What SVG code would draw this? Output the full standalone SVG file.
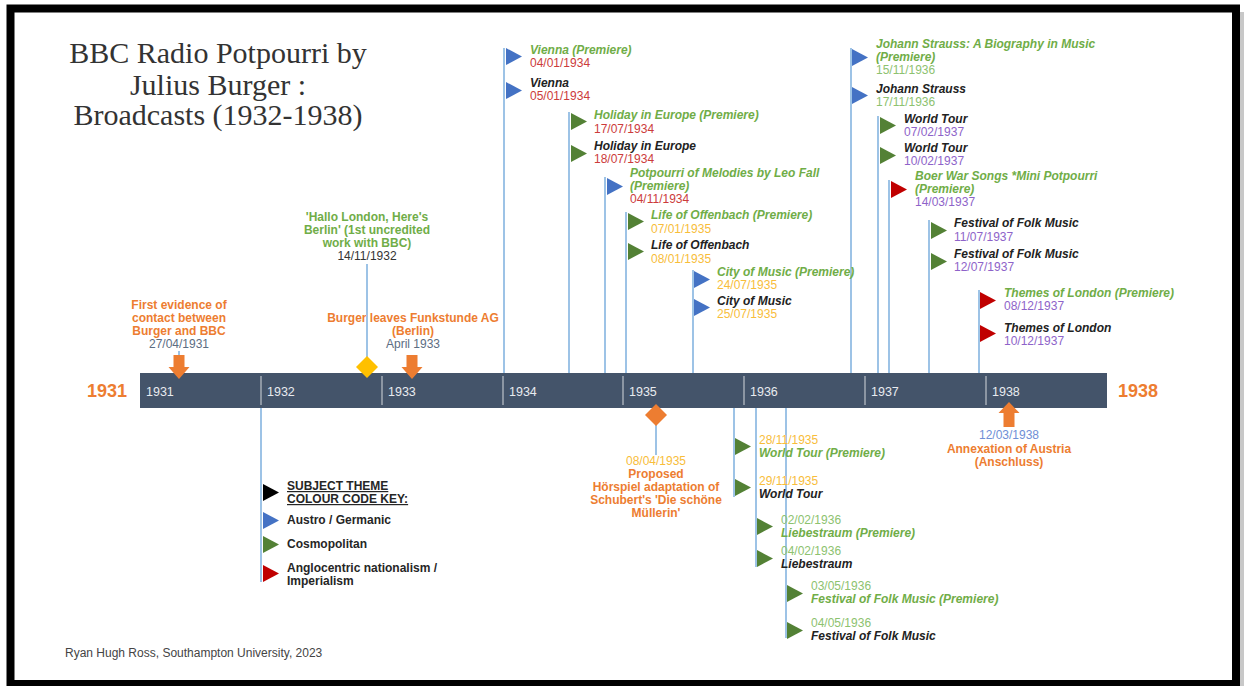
<svg xmlns="http://www.w3.org/2000/svg" width="1245" height="686" viewBox="0 0 1245 686">
<style>
text{font-family:"Liberation Sans",Arial,sans-serif;font-size:12px}
.title{font-family:"Liberation Serif","Times New Roman",serif;font-size:30px;fill:#333;text-anchor:middle}
.ev{font-weight:bold;font-style:italic}
.g{fill:#70AD47}
.k{fill:#222}
.dr{fill:#CC3B3B}
.dy{fill:#F8BD3A}
.dg{fill:#8DC26F}
.dp{fill:#8E63C9}
.db{fill:#5C6D82}
.or{fill:#ED7D31;font-weight:bold}
.c{text-anchor:middle}
.conn line{stroke:#9DC3E6;stroke-width:2}
.fb{fill:#4472C4}
.fg{fill:#538135}
.fr{fill:#C00000}
.fk{fill:#000}
.yr{fill:#E8EBEF;font-size:12.5px}
.tick{stroke:#8C96A3;stroke-width:2}
.big{fill:#ED7D31;font-weight:bold;font-size:18px}
.leg{font-weight:bold;fill:#262626}
</style>
<defs>
<path id="flag" d="M0,0 L16,8.5 L0,17 Z"/>
<path id="darrow" d="M-5.5,0 H5.5 V12 H10.5 L0,24 L-10.5,12 H-5.5 Z"/>
</defs>
<rect x="0" y="0" width="1245" height="686" fill="#fff"/>
<rect x="1240" y="12" width="4" height="674" fill="#c8c8c8"/>
<rect x="10.5" y="8.5" width="1225.5" height="675.5" fill="#fff" stroke="#000" stroke-width="8"/>

<g id="title">
<text class="title" x="218" y="63">BBC Radio Potpourri by</text>
<text class="title" x="218" y="95">Julius Burger :</text>
<text class="title" x="218" y="125">Broadcasts (1932-1938)</text>
</g>

<g id="connectors" class="conn">
<line x1="504" y1="48" x2="504" y2="373"/>
<line x1="569" y1="112" x2="569" y2="373"/>
<line x1="605" y1="177" x2="605" y2="373"/>
<line x1="626" y1="212" x2="626" y2="373"/>
<line x1="693" y1="270" x2="693" y2="373"/>
<line x1="851" y1="48" x2="851" y2="373"/>
<line x1="878" y1="116" x2="878" y2="373"/>
<line x1="889" y1="180" x2="889" y2="373"/>
<line x1="929" y1="220" x2="929" y2="373"/>
<line x1="979" y1="290" x2="979" y2="373"/>
<line x1="367" y1="264" x2="367" y2="360"/>
<line x1="179" y1="351" x2="179" y2="357"/>
<line x1="261" y1="408" x2="261" y2="582"/>
<line x1="656" y1="424" x2="656" y2="455"/>
<line x1="734" y1="408" x2="734" y2="497"/>
<line x1="756" y1="408" x2="756" y2="567"/>
<line x1="786" y1="408" x2="786" y2="638"/>
</g>

<g id="timeline">
<rect x="140" y="373" width="967" height="35" fill="#44546A"/>
<line class="tick" x1="261" y1="376" x2="261" y2="405"/>
<line class="tick" x1="382" y1="376" x2="382" y2="405"/>
<line class="tick" x1="503" y1="376" x2="503" y2="405"/>
<line class="tick" x1="623" y1="376" x2="623" y2="405"/>
<line class="tick" x1="744" y1="376" x2="744" y2="405"/>
<line class="tick" x1="865" y1="376" x2="865" y2="405"/>
<line class="tick" x1="986" y1="376" x2="986" y2="405"/>
<text class="yr" x="146" y="396">1931</text>
<text class="yr" x="267" y="396">1932</text>
<text class="yr" x="388" y="396">1933</text>
<text class="yr" x="509" y="396">1934</text>
<text class="yr" x="629" y="396">1935</text>
<text class="yr" x="750" y="396">1936</text>
<text class="yr" x="871" y="396">1937</text>
<text class="yr" x="992" y="396">1938</text>
<text class="big" x="87" y="397">1931</text>
<text class="big" x="1118" y="397">1938</text>
</g>

<g id="first-contact">
<text class="or c" x="179" y="309">First evidence of</text>
<text class="or c" x="179" y="322">contact between</text>
<text class="or c" x="179" y="335">Burger and BBC</text>
<text class="db c" x="179" y="348">27/04/1931</text>
<use href="#darrow" x="179" y="355" fill="#ED7D31"/>
</g>

<g id="hallo-london">
<text class="g c" font-weight="bold" x="367" y="221">'Hallo London, Here's</text>
<text class="g c" font-weight="bold" x="367" y="234">Berlin' (1st uncredited</text>
<text class="g c" font-weight="bold" x="367" y="247">work with BBC)</text>
<text class="c" fill="#333" x="367" y="260">14/11/1932</text>
<path d="M367,356 L378,367 L367,378 L356,367 Z" fill="#FFC000"/>
</g>

<g id="leaves-funkstunde">
<text class="or c" x="413" y="322">Burger leaves Funkstunde AG</text>
<text class="or c" x="413" y="335">(Berlin)</text>
<text class="db c" x="413" y="348">April 1933</text>
<use href="#darrow" x="412" y="355" fill="#ED7D31"/>
</g>

<g id="vienna">
<use href="#flag" x="506" y="48" class="fb"/>
<text class="ev g" x="530" y="54">Vienna (Premiere)</text>
<text class="dr" x="530" y="67">04/01/1934</text>
<use href="#flag" x="506" y="82" class="fb"/>
<text class="ev k" x="530" y="87">Vienna</text>
<text class="dr" x="530" y="100">05/01/1934</text>
</g>

<g id="holiday-in-europe">
<use href="#flag" x="571" y="113" class="fg"/>
<text class="ev g" x="594" y="119">Holiday in Europe (Premiere)</text>
<text class="dr" x="594" y="133">17/07/1934</text>
<use href="#flag" x="571" y="145" class="fg"/>
<text class="ev k" x="594" y="150">Holiday in Europe</text>
<text class="dr" x="594" y="163">18/07/1934</text>
</g>

<g id="leo-fall">
<use href="#flag" x="607" y="178" class="fb"/>
<text class="ev g" x="630" y="177">Potpourri of Melodies by Leo Fall</text>
<text class="ev g" x="630" y="190">(Premiere)</text>
<text class="dr" x="630" y="203">04/11/1934</text>
</g>

<g id="life-of-offenbach">
<use href="#flag" x="628" y="213" class="fg"/>
<text class="ev g" x="651" y="219">Life of Offenbach (Premiere)</text>
<text class="dy" x="651" y="233">07/01/1935</text>
<use href="#flag" x="628" y="243" class="fg"/>
<text class="ev k" x="651" y="249">Life of Offenbach</text>
<text class="dy" x="651" y="263">08/01/1935</text>
</g>

<g id="city-of-music">
<use href="#flag" x="694" y="271" class="fb"/>
<text class="ev g" x="717" y="276">City of Music (Premiere)</text>
<text class="dy" x="717" y="289">24/07/1935</text>
<use href="#flag" x="694" y="299" class="fb"/>
<text class="ev k" x="717" y="305">City of Music</text>
<text class="dy" x="717" y="318">25/07/1935</text>
</g>

<g id="johann-strauss">
<use href="#flag" x="852" y="49" class="fb"/>
<text class="ev g" x="876" y="48">Johann Strauss: A Biography in Music</text>
<text class="ev g" x="876" y="61">(Premiere)</text>
<text class="dg" x="876" y="74">15/11/1936</text>
<use href="#flag" x="852" y="87" class="fb"/>
<text class="ev k" x="876" y="93">Johann Strauss</text>
<text class="dg" x="876" y="106">17/11/1936</text>
</g>

<g id="world-tour-1937">
<use href="#flag" x="880" y="117" class="fg"/>
<text class="ev k" x="904" y="123">World Tour</text>
<text class="dp" x="904" y="136">07/02/1937</text>
<use href="#flag" x="880" y="147" class="fg"/>
<text class="ev k" x="904" y="152">World Tour</text>
<text class="dp" x="904" y="165">10/02/1937</text>
</g>

<g id="boer-war-songs">
<use href="#flag" x="891" y="181" class="fr"/>
<text class="ev g" x="915" y="180">Boer War Songs *Mini Potpourri</text>
<text class="ev g" x="915" y="193">(Premiere)</text>
<text class="dp" x="915" y="206">14/03/1937</text>
</g>

<g id="folk-music-1937">
<use href="#flag" x="931" y="222" class="fg"/>
<text class="ev k" x="954" y="227">Festival of Folk Music</text>
<text class="dp" x="954" y="241">11/07/1937</text>
<use href="#flag" x="931" y="253" class="fg"/>
<text class="ev k" x="954" y="258">Festival of Folk Music</text>
<text class="dp" x="954" y="271">12/07/1937</text>
</g>

<g id="themes-of-london">
<use href="#flag" x="980" y="292" class="fr"/>
<text class="ev g" x="1004" y="297">Themes of London (Premiere)</text>
<text class="dp" x="1004" y="310">08/12/1937</text>
<use href="#flag" x="980" y="325" class="fr"/>
<text class="ev k" x="1004" y="332">Themes of London</text>
<text class="dp" x="1004" y="345">10/12/1937</text>
</g>

<g id="legend">
<use href="#flag" x="263" y="484" class="fk"/>
<text class="leg" x="287" y="490" text-decoration="underline">SUBJECT THEME</text>
<text class="leg" x="287" y="503" text-decoration="underline">COLOUR CODE KEY:</text>
<use href="#flag" x="263" y="512" class="fb"/>
<text class="leg" x="287" y="524">Austro / Germanic</text>
<use href="#flag" x="263" y="536" class="fg"/>
<text class="leg" x="287" y="548">Cosmopolitan</text>
<use href="#flag" x="263" y="565" class="fr"/>
<text class="leg" x="287" y="572">Anglocentric nationalism /</text>
<text class="leg" x="287" y="585">Imperialism</text>
</g>

<g id="horspiel">
<path d="M656,404 L667,415 L656,426 L645,415 Z" fill="#ED7D31"/>
<text class="dy c" x="656" y="465">08/04/1935</text>
<text class="or c" x="656" y="478">Proposed</text>
<text class="or c" x="656" y="491">Hörspiel adaptation of</text>
<text class="or c" x="656" y="504">Schubert's 'Die schöne</text>
<text class="or c" x="656" y="517">Müllerin'</text>
</g>

<g id="world-tour-1935">
<use href="#flag" x="735" y="438" class="fg"/>
<text class="dy" x="759" y="444">28/11/1935</text>
<text class="ev g" x="759" y="457">World Tour (Premiere)</text>
<use href="#flag" x="735" y="479" class="fg"/>
<text class="dy" x="759" y="485">29/11/1935</text>
<text class="ev k" x="759" y="498">World Tour</text>
</g>

<g id="liebestraum">
<use href="#flag" x="757" y="518" class="fg"/>
<text class="dg" x="781" y="524">02/02/1936</text>
<text class="ev g" x="781" y="537">Liebestraum (Premiere)</text>
<use href="#flag" x="757" y="550" class="fg"/>
<text class="dg" x="781" y="555">04/02/1936</text>
<text class="ev k" x="781" y="568">Liebestraum</text>
</g>

<g id="folk-music-1936">
<use href="#flag" x="787" y="585" class="fg"/>
<text class="dg" x="811" y="590">03/05/1936</text>
<text class="ev g" x="811" y="603">Festival of Folk Music (Premiere)</text>
<use href="#flag" x="787" y="622" class="fg"/>
<text class="dg" x="811" y="627">04/05/1936</text>
<text class="ev k" x="811" y="640">Festival of Folk Music</text>
</g>

<g id="anschluss">
<path d="M1009,402 L1019.5,413 H1014.5 V427 H1003.5 V413 H998.5 Z" fill="#ED7D31"/>
<text class="c" fill="#6F8FD6" x="1009" y="439">12/03/1938</text>
<text class="or c" x="1009" y="453">Annexation of Austria</text>
<text class="or c" x="1009" y="466">(Anschluss)</text>
</g>

<g id="credit">
<text x="65" y="657" fill="#444" font-size="11.5">Ryan Hugh Ross, Southampton University, 2023</text>
</g>
</svg>
